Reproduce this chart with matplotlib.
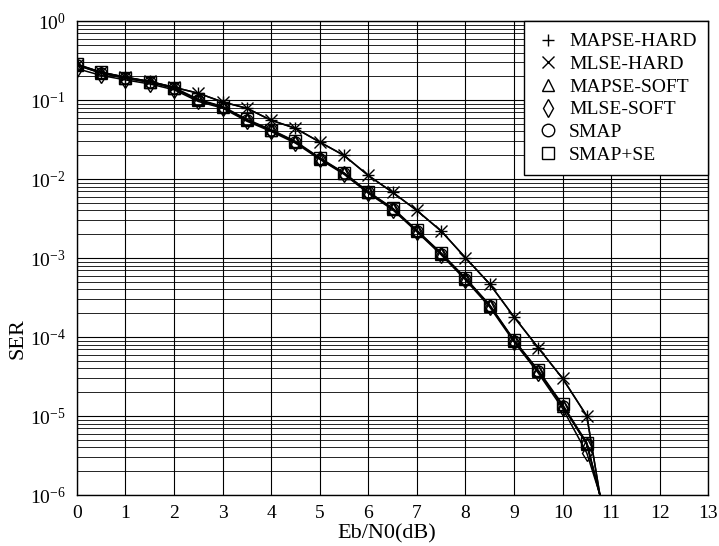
import matplotlib
matplotlib.use("Agg")
from matplotlib import pyplot as plt
from matplotlib.lines import Line2D
from matplotlib.ticker import LogLocator, FixedLocator
import numpy as np

plt.rcParams['font.family'] = ['Liberation Serif', 'DejaVu Serif']
plt.rcParams['mathtext.fontset'] = 'stix'

# Eb/N0 points (dB)
ebn0 = [0.0, 0.5, 1.0, 1.5, 2.0, 2.5, 3.0, 3.5, 4.0, 4.5, 5.0, 5.5,
        6.0, 6.5, 7.0, 7.5, 8.0, 8.5, 9.0, 9.5, 10.0, 10.5, 11.0]

# hard decision curves (MAPSE / MLSE overlap)
ser_mapse_hard = [0.28, 0.225, 0.195, 0.172, 0.145, 0.122, 0.0946, 0.0787, 0.0555,
                  0.0439, 0.0294, 0.0199, 0.0111, 0.0068, 0.0040, 0.0022, 0.00101,
                  4.7e-4, 1.8e-4, 7.3e-5, 3.0e-5, 1.0e-5, 1.4e-7]
ser_mlse_hard = [0.28, 0.225, 0.195, 0.172, 0.145, 0.122, 0.0946, 0.0787, 0.0555,
                 0.0439, 0.0294, 0.0199, 0.0111, 0.0068, 0.0040, 0.0022, 0.00101,
                 4.7e-4, 1.8e-4, 7.3e-5, 3.0e-5, 1.0e-5, 1.4e-7]

# soft decision curves
ser_mapse_soft = [0.277, 0.219, 0.189, 0.168, 0.141, 0.100, 0.0817, 0.0555, 0.0414,
                  0.0294, 0.0182, 0.0118, 0.0068, 0.0042, 0.0022, 0.00114, 5.5e-4,
                  2.5e-4, 9.0e-5, 3.7e-5, 1.35e-5, 4.4e-6, 2.8e-7]
ser_mlse_soft = [0.25, 0.205, 0.18, 0.16, 0.135, 0.096, 0.079, 0.054, 0.040,
                 0.0285, 0.0178, 0.0115, 0.0066, 0.0041, 0.00215, 0.0011, 5.3e-4,
                 2.4e-4, 8.7e-5, 3.5e-5, 1.25e-5, 3.4e-6, 3.6e-7]
ser_smap = [0.277, 0.219, 0.189, 0.168, 0.141, 0.100, 0.0817, 0.0555, 0.0414,
            0.0294, 0.0182, 0.0118, 0.0068, 0.0042, 0.0022, 0.00114, 5.5e-4,
            2.5e-4, 9.0e-5, 3.7e-5, 1.35e-5, 4.4e-6, 2.8e-7]
ser_smap_se = [0.285, 0.225, 0.193, 0.171, 0.144, 0.102, 0.083, 0.057, 0.0422,
               0.030, 0.0186, 0.012, 0.0069, 0.0043, 0.00225, 0.00116, 5.6e-4,
               2.55e-4, 9.2e-5, 3.8e-5, 1.4e-5, 4.6e-6, 2.7e-7]

series = [
    ('MAPSE-HARD', ser_mapse_hard, '+'),
    ('MLSE-HARD', ser_mlse_hard, 'x'),
    ('MAPSE-SOFT', ser_mapse_soft, '^'),
    ('MLSE-SOFT', ser_mlse_soft, 'd'),
    ('SMAP', ser_smap, 'o'),
    ('SMAP+SE', ser_smap_se, 's'),
]

fig = plt.figure(figsize=(7.19, 5.46), dpi=100)
ax = fig.add_axes([0.107, 0.0934, 0.878, 0.868])

handles = []
for name, vals, mk in series:
    ax.semilogy(ebn0, vals, color='black', lw=1.1, marker=mk, markersize=8,
                markerfacecolor='none', markeredgecolor='black', markeredgewidth=1.0)
    handles.append(Line2D([], [], ls='none', marker=mk, color='black',
                          markerfacecolor='none', markersize=9, label=name))

ax.set_xlim(0, 13)
ax.set_ylim(1e-6, 1)
ax.xaxis.set_major_locator(FixedLocator(range(0, 14)))
ax.yaxis.set_major_locator(LogLocator(base=10, numticks=10))
ax.yaxis.set_minor_locator(LogLocator(base=10, subs=np.arange(2, 10), numticks=100))
ax.yaxis.set_minor_formatter(plt.NullFormatter())

ax.grid(True, which='major', color='black', lw=0.8)
ax.grid(True, which='minor', axis='y', color='black', lw=0.6)
ax.tick_params(which='both', length=0, labelsize=14)
ax.tick_params(axis='x', pad=7)
ax.tick_params(axis='y', pad=8)
for s in ax.spines.values():
    s.set_linewidth(1.0)

ax.set_xlabel('Eb/N0(dB)', fontsize=16, va='center')
ax.xaxis.set_label_coords(0.49, -0.083)
ax.set_ylabel('SER', fontsize=16)
ax.yaxis.set_label_coords(-0.078, 0.33)

leg = ax.legend(handles=handles, loc='upper right', borderaxespad=0, fontsize=14,
                fancybox=False, framealpha=1, edgecolor='black', handlelength=1.2,
                handletextpad=0.5, labelspacing=0.26, borderpad=0.6)
leg.get_frame().set_linewidth(1.0)

fig.savefig('out.png', dpi=100)
